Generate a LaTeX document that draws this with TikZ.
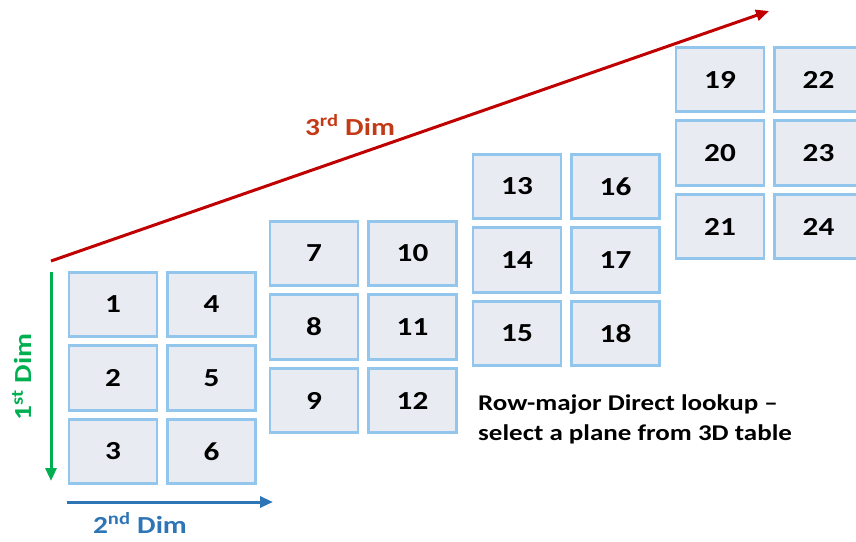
\documentclass[tikz,border=0pt]{standalone}
\usepackage{fontspec}
\setmainfont{Carlito}[FakeStretch=1.2]
\usetikzlibrary{arrows.meta}
\definecolor{cellblue}{HTML}{92C6EC}
\definecolor{cellfill}{HTML}{E8ECF2}
\definecolor{dimred}{HTML}{C00000}
\definecolor{dimlabel}{HTML}{C33A16}
\definecolor{dimgreen}{HTML}{00B050}
\definecolor{dimblue}{HTML}{2E75B6}
\tikzset{
  cellbox/.style={
    rectangle, draw=cellblue, fill=cellfill, line width=2.6pt,
    minimum width=88pt, minimum height=64.5pt, inner sep=0pt,
    font=\fontsize{26}{28}\selectfont\bfseries
  },
  dimarr/.style={
    -{Triangle[length=13pt,width=11pt]}, line width=3pt
  },
  dimtext/.style={font=\fontsize{24.5}{28}\selectfont\bfseries, inner sep=0pt},
}

\begin{document}
\begin{tikzpicture}[x=1pt,y=-1pt]
  \useasboundingbox (0,0) rectangle (856,541);
  \clip (0,0) rectangle (856,541);
  % four planes of the 3D table
  \foreach \b/\x/\y in {0/68/271, 1/269/220, 2/472/153, 3/675/46} {
    \foreach \col in {0,1} {
      \foreach \row in {0,1,2} {
        \pgfmathtruncatemacro{\n}{6*\b+3*\col+\row+1}
        \node[cellbox] (c\n) at ({\x+\col*98.5+45},{\y+\row*73.5+33.5}) {\n};
      }
    }
  }
  % dimension arrows
  \coordinate (r0) at (51,261);
  \coordinate (r1) at (769,11);
  \coordinate (g0) at (51,272);
  \coordinate (g1) at (51,481);
  \coordinate (b0) at (67,502);
  \coordinate (b1) at (273,502);
  \draw[dimarr, dimred] (r0) -- (r1);
  \draw[dimarr, dimgreen] (g0) -- (g1);
  \draw[dimarr, dimblue] (b0) -- (b1);
  \node[dimtext, text=dimlabel] (third) at (350,125) {3\textsuperscript{rd} Dim};
  \node[dimtext, text=dimgreen, rotate=90] (first) at (22,377) {1\textsuperscript{st} Dim};
  \node[dimtext, text=dimblue] (second) at (140,523) {2\textsuperscript{nd} Dim};
  \node[anchor=base west, align=left, inner sep=0pt,
        font=\fontsize{22.5}{30}\selectfont\bfseries] (note) at (478,440)
    {Row-major Direct lookup --\\select a plane from 3D table};
\end{tikzpicture}
\end{document}
